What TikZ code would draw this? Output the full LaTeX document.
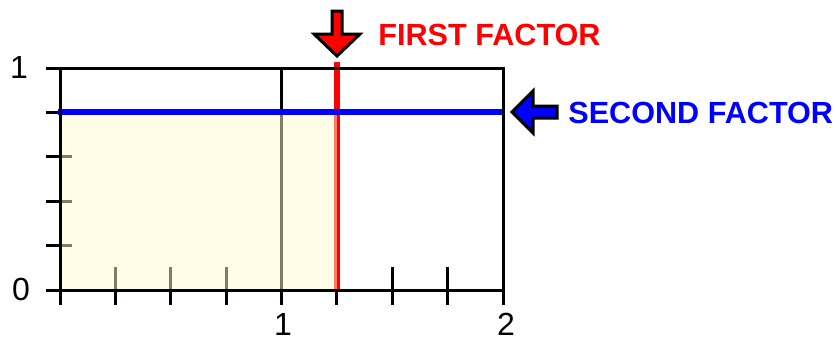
\documentclass[tikz,border=0pt]{standalone}
\usepackage{fontspec}
\setmainfont{Liberation Sans}
\definecolor{areafill}{RGB}{255,251,205}
\definecolor{factorred}{RGB}{255,0,0}
\definecolor{factorblue}{RGB}{0,0,255}
\tikzset{
  axisline/.style={line width=1.5pt, black},
  tickmark/.style={line width=1.5pt, black},
  factorline/.style={line width=3pt},
  bigarrow/.style={draw=black, line width=1.5pt, line join=miter},
  factorlabel/.style={font=\bfseries\fontsize{15.3pt}{18pt}\selectfont, inner sep=0pt, anchor=base west},
  numlabel/.style={font=\fontsize{16pt}{19pt}\selectfont, inner sep=0pt, anchor=base}
}
\begin{document}
\begin{tikzpicture}[x=0.5pt, y=-0.5pt]
\useasboundingbox (0,0) rectangle (839,339);
% x ticks
\foreach \k in {0,...,8} {
  \draw[tickmark] ({60+55.375*\k},267) -- ({60+55.375*\k},305);
}
% y ticks
\foreach \k in {0,...,5} {
  \draw[tickmark] (46,{290-44.4*\k}) -- (72,{290-44.4*\k});
}
% gridline at x = 1
\draw[axisline] (281.5,68) -- (281.5,290);
% red factor line
\draw[factorline, factorred] (337,62) -- (337,291);
% shaded product area
\fill[areafill, opacity=0.5] (60,112) rectangle (337,290);
% blue factor line
\draw[factorline, factorblue] (58,112) -- (503,112);
% frame and axes
\draw[axisline] (46,68) -- (503,68) -- (503,305);
\draw[axisline] (60,68) -- (60,305);
\draw[axisline] (46,290) -- (503,290);
% arrows
\draw[bigarrow, fill=factorred] (332,11) -- (342,11) -- (342,34) -- (360,34) -- (337,56) -- (314,34) -- (332,34) -- cycle;
\draw[bigarrow, fill=factorblue] (512,112) -- (533,91) -- (533,106) -- (557,106) -- (557,118) -- (533,118) -- (533,133) -- cycle;
% labels
\node[factorlabel, text=factorred] (first) at (378,45) {FIRST FACTOR};
\node[factorlabel, text=factorblue] (second) at (568,123) {SECOND FACTOR};
\node[numlabel] (yone) at (19,78) {1};
\node[numlabel] (yzero) at (21,300) {0};
\node[numlabel] (xone) at (283,335) {1};
\node[numlabel] (xtwo) at (506,335) {2};
\end{tikzpicture}
\end{document}
